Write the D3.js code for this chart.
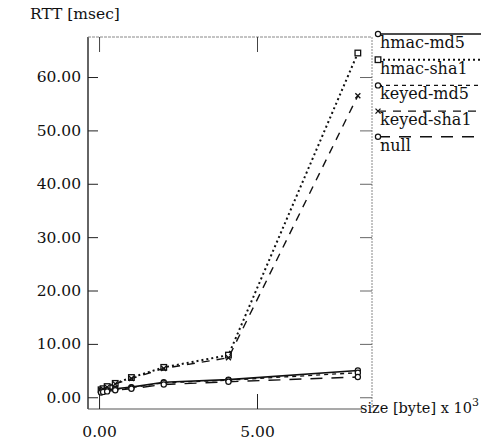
<!DOCTYPE html>
<html>
<head>
<meta charset="utf-8">
<script src="https://cdn.jsdelivr.net/npm/d3@7"></script>
<style>
  body { margin: 0; background: #fff; }
  text { font-family: "DejaVu Serif", "Liberation Serif", serif; fill: #111; }
</style>
</head>
<body>
<div id="chart"></div>
<script>
// message sizes in KB (x 10^3 byte)
const sizes = [0.064, 0.128, 0.256, 0.512, 1.024, 2.048, 4.096, 8.192];

const hmacMd5   = [1.1, 1.2, 1.4, 1.6, 1.9, 2.8, 3.3, 5.0];
const hmacSha1  = [1.4, 1.6, 2.0, 2.6, 3.7, 5.6, 7.9, 64.5];
const keyedMd5  = [1.0, 1.1, 1.3, 1.5, 1.8, 2.7, 3.2, 4.6];
const keyedSha1 = [1.3, 1.5, 1.9, 2.5, 3.5, 5.4, 7.4, 56.5];
const nullRtt   = [0.9, 1.0, 1.1, 1.3, 1.6, 2.4, 2.9, 3.8];

const seriesNames = ["hmac-md5", "hmac-sha1", "keyed-md5", "keyed-sha1", "null"];
const yTicks = [0, 10, 20, 30, 40, 50, 60];
const xTicks = [0, 5];

const series = [
    {name: seriesNames[0], values: hmacMd5,   dash: null,   width: 1.6, marker: "circle"},
    {name: seriesNames[1], values: hmacSha1,  dash: "2,3",  width: 2,   marker: "square"},
    {name: seriesNames[2], values: keyedMd5,  dash: "4,4",  width: 1.3, marker: "circle"},
    {name: seriesNames[3], values: keyedSha1, dash: "8,7",  width: 1.4, marker: "cross"},
    {name: seriesNames[4], values: nullRtt,   dash: "12,9", width: 1.4, marker: "circle"}
];

const width = 481, height = 440;
const plot = {left: 88, right: 372, top: 37, bottom: 409};
const serif = "'DejaVu Serif', 'Liberation Serif', serif";

const svg = d3.select("#chart").append("svg")
    .attr("width", width)
    .attr("height", height);

const x = d3.scaleLinear().domain([-0.35, 8.64]).range([plot.left, plot.right]);
const y = d3.scaleLinear().domain([-2.2, 67.5]).range([plot.bottom, plot.top]);

// frame
svg.append("line")
    .attr("x1", plot.left).attr("x2", plot.left).attr("y1", plot.top).attr("y2", plot.bottom)
    .attr("stroke", "#111").attr("stroke-width", 1.3);
svg.append("line")
    .attr("x1", plot.left).attr("x2", 362).attr("y1", plot.bottom).attr("y2", plot.bottom)
    .attr("stroke", "#555").attr("stroke-width", 1.1);
svg.append("line")
    .attr("x1", plot.left).attr("x2", plot.right).attr("y1", plot.top).attr("y2", plot.top)
    .attr("stroke", "#888").attr("stroke-width", 1).attr("stroke-dasharray", "3,1");
svg.append("line")
    .attr("x1", plot.right).attr("x2", plot.right).attr("y1", plot.top).attr("y2", plot.bottom)
    .attr("stroke", "#888").attr("stroke-width", 1).attr("stroke-dasharray", "2,1");

const fmt = d3.format(".2f");

const yAxis = svg.append("g")
    .attr("transform", `translate(${plot.left},0)`)
    .call(d3.axisLeft(y).tickValues(yTicks).tickSizeInner(-10).tickSizeOuter(0)
        .tickPadding(7).tickFormat(fmt));

const xAxis = svg.append("g")
    .attr("transform", `translate(0,${plot.bottom})`)
    .call(d3.axisBottom(x).tickValues(xTicks).tickSizeInner(-15).tickSizeOuter(0)
        .tickPadding(17).tickFormat(fmt));

const rAxis = svg.append("g")
    .attr("transform", `translate(${plot.right},0)`)
    .call(d3.axisRight(y).tickValues(yTicks).tickSizeInner(-12).tickSizeOuter(0)
        .tickFormat(""));

const tAxis = svg.append("g")
    .attr("transform", `translate(0,${plot.top})`)
    .call(d3.axisTop(x).tickValues(xTicks).tickSizeInner(-15).tickSizeOuter(0)
        .tickFormat(""));

[yAxis, xAxis, rAxis, tAxis].forEach(g => {
    g.attr("font-family", serif).attr("font-size", 15.5);
    g.select(".domain").remove();
    g.selectAll("text").attr("fill", "#111");
    g.selectAll(".tick line").attr("stroke", "#222");
});
rAxis.selectAll(".tick line").attr("stroke", "#666");
tAxis.selectAll(".tick line").attr("stroke", "#444");

// axis titles
svg.append("text")
    .attr("x", 30).attr("y", 19)
    .style("font-size", "15.5px")
    .text("RTT [msec]");

const xt = svg.append("text")
    .attr("x", 360).attr("y", 413)
    .style("font-size", "14.5px")
    .text("size [byte] x 10");
xt.append("tspan")
    .attr("dy", -7)
    .style("font-size", "11px")
    .text("3");

function drawMarker(g, type, cx, cy) {
    if (type === "circle") {
        g.append("circle").attr("cx", cx).attr("cy", cy).attr("r", 2.6)
            .attr("fill", "#fff").attr("stroke", "#111").attr("stroke-width", 1.2);
    } else if (type === "square") {
        g.append("rect").attr("x", cx - 2.8).attr("y", cy - 2.8)
            .attr("width", 5.6).attr("height", 5.6)
            .attr("fill", "#fff").attr("stroke", "#111").attr("stroke-width", 1.3);
    } else {
        g.append("path")
            .attr("d", `M${cx - 2.5},${cy - 2.5}L${cx + 2.5},${cy + 2.5}M${cx - 2.5},${cy + 2.5}L${cx + 2.5},${cy - 2.5}`)
            .attr("stroke", "#111").attr("stroke-width", 1.3);
    }
}

const line = d3.line()
    .x(d => x(d[0]))
    .y(d => y(d[1]));

series.forEach(s => {
    const pts = sizes.map((v, i) => [v, s.values[i]]);
    const g = svg.append("g");
    g.append("path")
        .datum(pts)
        .attr("d", line)
        .attr("fill", "none")
        .attr("stroke", "#111")
        .attr("stroke-width", s.width)
        .attr("stroke-dasharray", s.dash);
    pts.forEach(p => drawMarker(g, s.marker, x(p[0]), y(p[1])));
});

// legend
const legend = svg.append("g");
series.forEach((s, i) => {
    const ly = 34 + i * 25.7;
    const e = legend.append("g");
    e.append("line")
        .attr("x1", 378).attr("x2", 481).attr("y1", ly).attr("y2", ly)
        .attr("stroke", "#111")
        .attr("stroke-width", s.width)
        .attr("stroke-dasharray", s.dash);
    drawMarker(e, s.marker, 378, ly);
    e.append("text")
        .attr("x", 380).attr("y", ly + 14)
        .style("font-size", "16px")
        .text(s.name);
});
</script>
</body>
</html>
